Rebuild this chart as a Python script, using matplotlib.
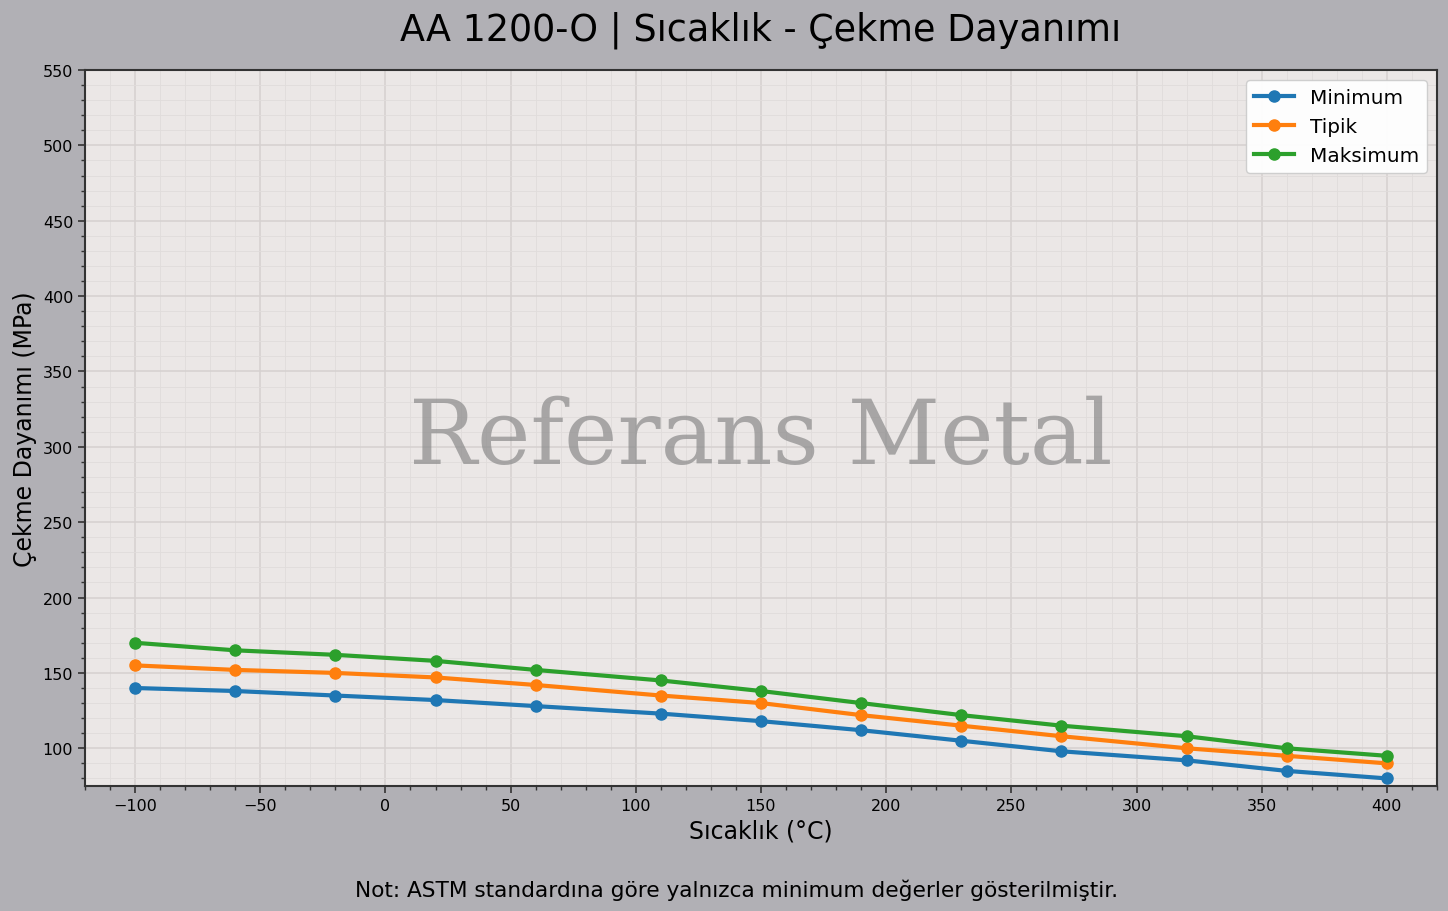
import numpy as np
import matplotlib
matplotlib.use("Agg")
import matplotlib.pyplot as plt
from matplotlib.ticker import MultipleLocator

# sıcaklık noktaları (°C)
sicaklik = [-100, -60, -20, 20, 60, 110, 150, 190, 230, 270, 320, 360, 400]
# çekme dayanımı (MPa)
minimum = [140, 138, 135, 132, 128, 123, 118, 112, 105, 98, 92, 85, 80]
tipik = [155, 152, 150, 147, 142, 135, 130, 122, 115, 108, 100, 95, 90]
maksimum = [170, 165, 162, 158, 152, 145, 138, 130, 122, 115, 108, 100, 95]

fig = plt.figure(figsize=(14.48, 9.12), dpi=100, facecolor='#b1b0b5')
ax = fig.add_axes([0.0587, 0.1371, 0.9337, 0.785])
ax.set_facecolor('#ebe7e6')

ax.plot(sicaklik, minimum, '-o', color='#1f77b4', lw=3, ms=8, label='Minimum')
ax.plot(sicaklik, tipik, '-o', color='#ff7f0e', lw=3, ms=8, label='Tipik')
ax.plot(sicaklik, maksimum, '-o', color='#2ca02c', lw=3, ms=8, label='Maksimum')

ax.set_xlim(-120, 420)
ax.set_ylim(75, 550)
ax.xaxis.set_major_locator(MultipleLocator(50))
ax.xaxis.set_minor_locator(MultipleLocator(10))
ax.yaxis.set_major_locator(MultipleLocator(50))
ax.yaxis.set_minor_locator(MultipleLocator(10))
ax.grid(which='major', color='#d5d0cf', lw=1.1)
ax.grid(which='minor', color='#e0dcdb', lw=0.6)
ax.set_axisbelow(True)

for s in ax.spines.values():
    s.set_color('#333333')
    s.set_linewidth(1.5)
ax.tick_params(which='major', labelsize=11.5, length=5, width=1.2, color='#333333')
ax.tick_params(which='minor', length=3, width=1, color='#333333')

ax.set_xlabel('Sıcaklık (°C)', fontsize=17)
ax.set_ylabel('Çekme Dayanımı (MPa)', fontsize=17, labelpad=4)
fig.text(0.5255, 0.967, 'AA 1200-O | Sıcaklık - Çekme Dayanımı', fontsize=26.3,
         ha='center', va='center')

ax.text(0.5, 0.485, 'Referans Metal', transform=ax.transAxes, ha='center', va='center',
        fontsize=65, family='DejaVu Serif', color='#8a8a8a', alpha=0.7)

ax.legend(loc='upper right', fontsize=14.4, framealpha=0.95)

fig.text(0.509, 0.024, 'Not: ASTM standardına göre yalnızca minimum değerler gösterilmiştir.',
         ha='center', va='center', fontsize=15.6)

fig.savefig('out.png', dpi=100, facecolor=fig.get_facecolor())
